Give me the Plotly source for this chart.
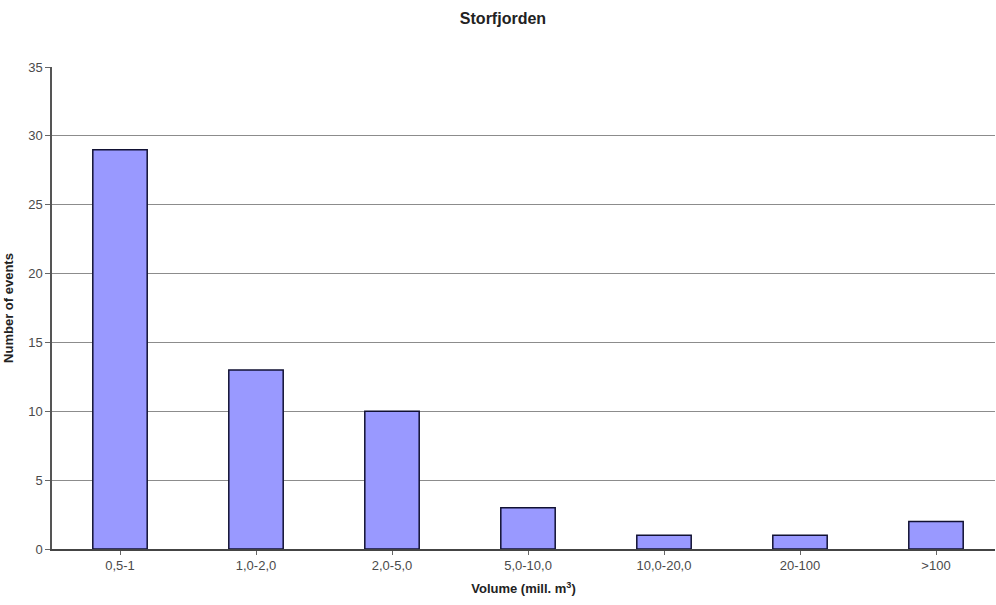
import plotly.graph_objects as go

categories = ["0,5-1", "1,0-2,0", "2,0-5,0", "5,0-10,0", "10,0-20,0", "20-100", ">100"]
events = [29, 13, 10, 3, 1, 1, 2]
y_ticks = [0, 5, 10, 15, 20, 25, 30, 35]

fig = go.Figure(
    go.Bar(
        x=list(range(len(categories))),
        y=events,
        marker=dict(color="#9999FF", line=dict(color="#111133", width=1.5)),
    )
)

fig.update_layout(
    width=996,
    height=605,
    margin=dict(l=52, r=1, t=67, b=56),
    paper_bgcolor="white",
    plot_bgcolor="white",
    bargap=0.6,
    showlegend=False,
    font=dict(family="Liberation Sans, Arial, sans-serif", size=13, color="#4a4a4a"),
    title=dict(
        text="<b>Storfjorden</b>",
        x=0.505,
        xanchor="center",
        y=0.97,
        yanchor="middle",
        font=dict(size=16, color="#222222"),
    ),
)

fig.update_xaxes(
    tickmode="array",
    tickvals=list(range(len(categories))),
    ticktext=categories,
    range=[-0.5, -0.5 + (995 - 52) / 136.0],
    tickson="boundaries",
    ticks="outside",
    ticklen=4,
    tickcolor="#666666",
    showline=True,
    linecolor="#444444",
    linewidth=1.5,
    showgrid=False,
    zeroline=False,
    title=dict(text="<b>Volume (mill. m<sup>3</sup>)</b>", font=dict(size=13, color="#222222"), standoff=12),
)

fig.update_yaxes(
    range=[0, 35],
    tickvals=y_ticks,
    ticks="outside",
    ticklen=5,
    tickcolor="#666666",
    showline=True,
    linecolor="#555555",
    linewidth=1.5,
    showgrid=True,
    gridcolor="#8c8c8c",
    gridwidth=1,
    zeroline=False,
    title=dict(text="<b>Number of events</b>", font=dict(size=13, color="#222222"), standoff=12),
)

fig.write_html("out.html")
